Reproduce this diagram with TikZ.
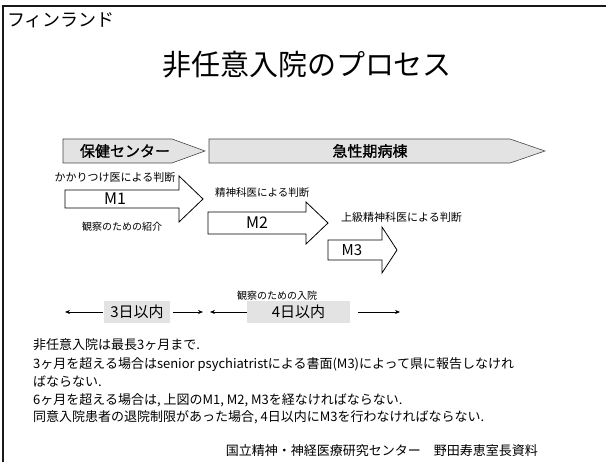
\documentclass[tikz,border=0pt]{standalone}
\usepackage{fontspec}
\setmainfont{Noto Sans CJK JP}
\newfontfamily\cjkbold[FakeBold=1.2]{Noto Sans CJK JP}
\usetikzlibrary{arrows.meta}
\begin{document}
\begin{tikzpicture}[x=1pt,y=-1pt,
  band/.style={fill=gray!22, draw=gray!55!black, line width=0.6pt},
  bigarrow/.style={fill=white, draw=black, line width=0.8pt, line join=miter},
  lbl/.style={inner sep=0pt},
  daybox/.style={fill=gray!22, inner sep=0pt, minimum height=22pt, font=\fontsize{15}{18}\selectfont},
  timetip/.style={-{Stealth[length=5pt,width=4pt]}, line width=0.7pt},
  bodytext/.style={anchor=west, inner sep=0pt, font=\fontsize{13}{15}\selectfont}]
\useasboundingbox (0,0) rectangle (606,462);
\draw[line width=1.5pt, gray!20!black] (3,462) -- (3,6) -- (606,6);

\node[lbl, anchor=west, font=\fontsize{18}{20}\selectfont] (country) at (7,20) {フィンランド};
\node[lbl, font=\fontsize{29}{32}\selectfont] (title) at (307,65) {非任意入院のプロセス};

% bands
\draw[band] (63,139) -- (172,139) -- (205,151) -- (172,163) -- (63,163) -- cycle;
\node[lbl, font=\cjkbold\fontsize{15}{18}\selectfont] (hc) at (125,151) {保健センター};
\draw[band] (209,139) -- (510,139) -- (545,151) -- (510,163) -- (209,163) -- cycle;
\node[lbl, font=\cjkbold\fontsize{15}{18}\selectfont] (ward) at (370,151) {急性期病棟};

% big arrows
\draw[bigarrow] (65,190) -- (179,190) -- (179,176) -- (203,199) -- (179,222) -- (179,208) -- (65,208) -- cycle;
\node[lbl, font=\fontsize{16}{18}\selectfont] (m1) at (115,199) {M1};
\draw[bigarrow] (208,212) -- (306,212) -- (306,202) -- (328,223) -- (306,244) -- (306,234) -- (208,234) -- cycle;
\node[lbl, font=\fontsize{16}{18}\selectfont] (m2) at (257,223) {M2};
\draw[bigarrow] (328,240) -- (382,240) -- (382,227) -- (397,250) -- (382,273) -- (382,260) -- (328,260) -- cycle;
\node[lbl, font=\fontsize{15}{18}\selectfont] (m3) at (352,250) {M3};

% labels
\node[lbl, font=\fontsize{11}{13}\selectfont] (gp) at (115,177) {かかりつけ医による判断};
\node[lbl, font=\fontsize{10}{12}\selectfont] (ref) at (122,227) {観察のための紹介};
\node[lbl, anchor=west, font=\fontsize{10.5}{12}\selectfont] (psy) at (215,193) {精神科医による判断};
\node[lbl, anchor=west, font=\fontsize{11}{13}\selectfont] (spsy) at (341,217) {上級精神科医による判断};
\node[lbl, font=\fontsize{10}{12}\selectfont] (adm) at (277,296) {観察のための入院};

% timeline
\node[daybox, minimum width=66pt] (d3) at (137,312) {3日以内};
\node[daybox, minimum width=103pt] (d4) at (298.5,312) {4日以内};
\coordinate (t1) at (65,312);
\coordinate (t2) at (203,312);
\coordinate (t3) at (210,312);
\coordinate (t4) at (400,312);
\draw[timetip, shorten <=1pt] (d3.west) -- (t1);
\draw[timetip, shorten <=3pt] (d3.east) -- (t2);
\draw[timetip] (d4.west) -- (t3);
\draw[timetip, shorten <=8pt] (d4.east) -- (t4);

% body
\node[bodytext] (l1) at (33,345) {非任意入院は最長3ヶ月まで.};
\node[bodytext] (l2) at (33,365) {3ヶ月を超える場合はsenior psychiatristによる書面(M3)によって県に報告しなけれ};
\node[bodytext] (l3) at (33,382) {ばならない.};
\node[bodytext] (l4) at (33,400) {6ヶ月を超える場合は, 上図のM1, M2, M3を経なければならない.};
\node[bodytext] (l5) at (33,417) {同意入院患者の退院制限があった場合, 4日以内にM3を行わなければならない.};
\node[bodytext, anchor=east] (src) at (538,451) {国立精神・神経医療研究センター　野田寿恵室長資料};
\end{tikzpicture}
\end{document}
